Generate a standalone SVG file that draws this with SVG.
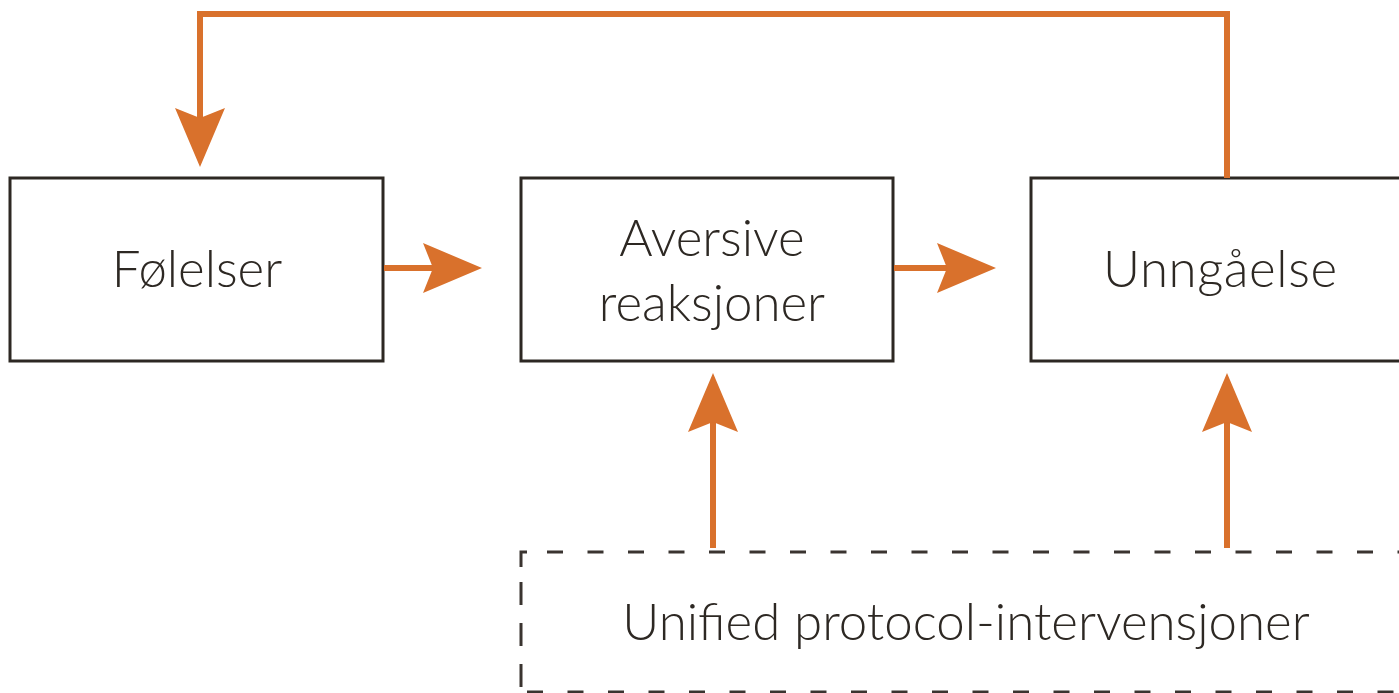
<svg xmlns="http://www.w3.org/2000/svg" width="1399" height="693" viewBox="0 0 1399 693">
  <style>
    .box { fill: #ffffff; stroke: #2d2823; stroke-width: 3; }
    .dash { fill: none; stroke: #3a3430; stroke-width: 3; }
    .lbl { font-family: Lato, "Open Sans", "Liberation Sans", sans-serif; font-weight: 300; fill: #2d2823; text-anchor: middle; font-size: 51px; }
    .conn { fill: none; stroke: #d9712c; stroke-width: 6; }
  </style>
  <defs>
    <marker id="head" markerUnits="userSpaceOnUse" viewBox="0 0 59 50" markerWidth="59" markerHeight="50" refX="10" refY="25" orient="auto">
      <path d="M0,0 L59,25 L0,50 L10,25 Z" fill="#d9712c"/>
    </marker>
  </defs>
  <rect width="1399" height="693" fill="#ffffff"/>

  <g id="node-folelser">
    <rect class="box" x="10" y="178" width="373" height="183"/>
    <text class="lbl" x="197" y="287">Følelser</text>
  </g>
  <g id="node-aversive">
    <rect class="box" x="521" y="178" width="372" height="183"/>
    <text class="lbl" x="712" y="256">Aversive</text>
    <text class="lbl" x="712" y="321">reaksjoner</text>
  </g>
  <g id="node-unngaelse">
    <rect class="box" x="1031" y="178" width="420" height="183"/>
    <text class="lbl" x="1220" y="287" textLength="234" lengthAdjust="spacing">Unngåelse</text>
  </g>
  <g id="node-unified">
    <path class="dash" d="M527,552 H521 V567"/>
    <path class="dash" d="M547,552 H1420" stroke-dasharray="16 24.5"/>
    <path class="dash" d="M521,582 V700" stroke-dasharray="23 18"/>
    <path class="dash" d="M527,692 H1420" stroke-dasharray="16 24.5"/>
    <text class="lbl" x="966" y="640">Unified protocol-intervensjoner</text>
  </g>

  <g id="connectors">
    <path class="conn" d="M1227,178 V14 H200 V118" marker-end="url(#head)"/>
    <path class="conn" d="M384,268 H433" marker-end="url(#head)"/>
    <path class="conn" d="M894,268 H947" marker-end="url(#head)"/>
    <path class="conn" d="M713,548 V422" marker-end="url(#head)"/>
    <path class="conn" d="M1227,548 V422" marker-end="url(#head)"/>
  </g>
</svg>
